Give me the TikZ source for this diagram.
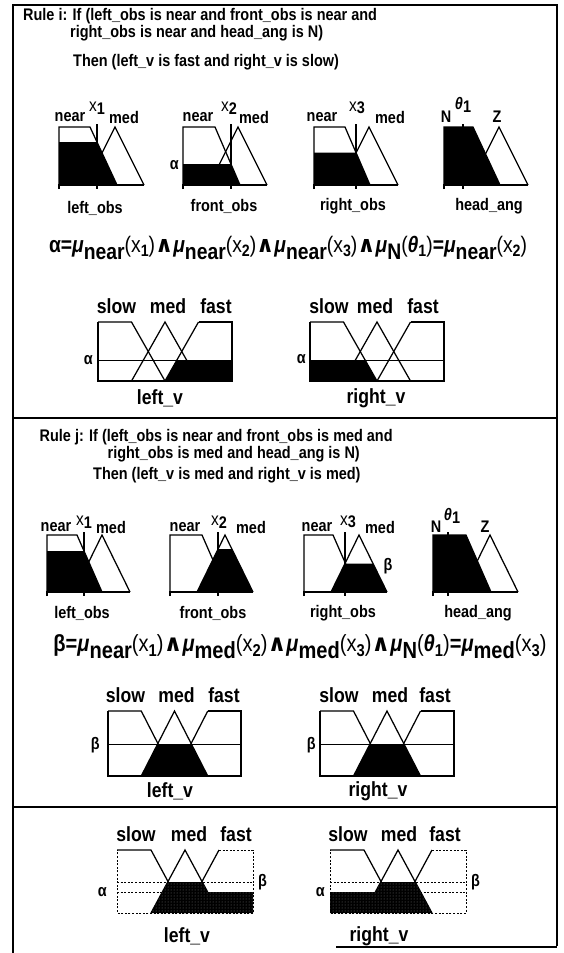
\documentclass[tikz,border=0pt]{standalone}
\usepackage{graphicx}
\usepackage{fontspec}
\setmainfont{Liberation Sans}[FakeStretch=0.86]
\newfontfamily\dejavu{DejaVu Sans}
\usetikzlibrary{patterns}

\newcommand\InMF[9]{%
 \draw[mf] (#1,#3)--(#1,#2)--(#4,#2)--(#5,#3);
 \draw[mf] (#6,#3)--(#7,#2)--(#8,#3);
 \draw[mf] (#9,{#2-3})--(#9,#3);}
\newcommand\InBase[4]{%
 \draw[mf] (#1,{#2+4})--(#1,#2)--(#3,#2);
 \draw[mf] (#4,#2)--(#4,{#2+4});}
\newcommand\OutMF[4]{%
 \draw[mf] (#1,#3)--({#1+0.25*#2},#3)--({#1+0.5*#2},#4);
 \draw[mf] ({#1+0.25*#2},#4)--({#1+0.5*#2},#3)--({#1+0.75*#2},#4);
 \draw[mf] ({#1+0.5*#2},#4)--({#1+0.75*#2},#3);}
\newcommand\OutFr[5]{%
 \draw[#1] ({#2+0.75*#3},#4)--({#2+#3},#4)--({#2+#3},#5)--(#2,#5)--(#2,#4);}
\newcommand\mus[1]{\textit{μ}\raisebox{-0.55ex}{#1}}
\newcommand\wdg{{\dejavu\bfseries ∧}}
\newcommand\fa[1]{{\mdseries(}#1{\mdseries)}}
\newcommand\xx[1]{{\mdseries x}\raisebox{-0.35ex}{\fontsize{11}{11}\selectfont #1}}
\newcommand\thx{\textit{θ}\raisebox{-0.35ex}{\fontsize{11}{11}\selectfont 1}}
\newcommand\xl[1]{{\mdseries\fontsize{18}{18}\selectfont x}\raisebox{-0.3ex}{#1}}

\begin{document}
\begin{tikzpicture}[x=1pt,y=-1pt,
 mf/.style={line width=1.25pt, line join=miter},
 blk/.style={fill=black, draw=none},
 lbl/.style={font=\bfseries\fontsize{16.8}{17}\selectfont, inner sep=0pt},
 olbl/.style={font=\bfseries\fontsize{20.5}{21}\selectfont, inner sep=0pt},
 rtxt/.style={font=\bfseries\fontsize{16.8}{18}\selectfont, inner sep=0pt, anchor=west},
 fml/.style={font=\bfseries\fontsize{15}{15}\selectfont, inner sep=0pt},
 panel/.style={line width=1.5pt},
 dsh/.style={line width=0.9pt, dash pattern=on 2pt off 1.6pt},
 stip/.style={fill=black, draw=none, postaction={pattern=dots, pattern color=black!55}}]
\useasboundingbox (0,0) rectangle (564,953);

% panels
\draw[panel] (13,5) rectangle (557,418);
\draw[panel] (13,418) rectangle (557,807);
\draw[panel] (557,807) -- (13,807) -- (13,953);
\draw[panel] (557,807) -- (557,946);
\draw[panel] (336,947) -- (557,947);

% ---------------- Panel 1 ----------------
\node[rtxt] (r1a) at (23,16) {Rule i: If (left\_obs is near and front\_obs is near and};
\node[rtxt] (r1b) at (70,33) {right\_obs is near and head\_ang is N)};
\node[rtxt] (r1c) at (73,62) {Then (left\_v is fast and right\_v is slow)};

\InMF{59}{127}{185}{90}{117}{86}{115}{144}{97}
\fill[blk] (59,185)--(59,142)--(97,142)--(117,185)--cycle;
\InBase{59}{185}{144}{97}
\InMF{183}{127}{185}{215}{240}{209}{238}{267}{231}
\fill[blk] (183,185)--(183,164)--(231,164)--(240,185)--cycle;
\InBase{183}{185}{267}{231}
\InMF{314}{127}{185}{345}{370}{340}{369}{398}{356}
\fill[blk] (314,185)--(314,152.5)--(356,152.5)--(370,185)--cycle;
\InBase{314}{185}{398}{356}
\InMF{444}{127}{185}{473}{500}{470}{499}{528}{463}
\fill[blk] (444,185)--(444,127)--(473,127)--(500,185)--cycle;
\InBase{444}{185}{528}{463}

\node[lbl] (p1n1) at (70,117) {near};
\node[lbl] (p1x1) at (97,108) {\xl{1}};
\node[lbl] (p1m1) at (124,117) {med};
\node[lbl] (p1n2) at (198,117) {near};
\node[lbl] (p1x2) at (229,108) {\xl{2}};
\node[lbl] (p1m2) at (254,117) {med};
\node[lbl, anchor=east] (p1al) at (179,165) {α};
\node[lbl] (p1n3) at (322,117) {near};
\node[lbl] (p1x3) at (357,108) {\xl{3}};
\node[lbl] (p1m3) at (390,117) {med};
\node[lbl] (p1N) at (446,117) {N};
\node[lbl] (p1th) at (463,105) {\textit{θ}\raisebox{-0.3ex}{1}};
\node[lbl] (p1Z) at (497,117) {Z};
\node[lbl] (p1lo) at (95,208) {left\_obs};
\node[lbl] (p1fo) at (224,206) {front\_obs};
\node[lbl] (p1ro) at (353,206) {right\_obs};
\node[lbl] (p1ha) at (489,206) {head\_ang};

\node[fml] (p1f) at (288,248) {\resizebox{478pt}{!}{α=\mus{near}\fa{\xx1}\wdg\mus{near}\fa{\xx2}\wdg\mus{near}\fa{\xx3}\wdg\mus{N}\fa{\thx}=\mus{near}\fa{\xx2}}};

% outputs panel 1
\draw[mf] (98,360.5)--(232,360.5);
\OutMF{98}{134}{322}{381}
\fill[blk] (165,381)--(176.6,360.5)--(232,360.5)--(232,381)--cycle;
\OutFr{mf}{98}{134}{322}{381}
\draw[mf] (310,360.5)--(444,360.5);
\OutMF{310}{134}{322}{381}
\fill[blk] (310,381)--(310,360.5)--(365.4,360.5)--(377,381)--cycle;
\OutFr{mf}{310}{134}{322}{381}

\node[olbl] (p1s1) at (116.5,306) {slow};
\node[olbl] (p1d1) at (168,306) {med};
\node[olbl] (p1f1) at (216,306) {fast};
\node[olbl] (p1s2) at (329,306) {slow};
\node[olbl] (p1d2) at (375,306) {med};
\node[olbl] (p1f2) at (423,306) {fast};
\node[lbl, anchor=east] (p1a1) at (93,360.5) {α};
\node[lbl, anchor=east] (p1a2) at (306,359) {α};
\node[olbl] (p1lv) at (160,398) {left\_v};
\node[olbl] (p1rv) at (376,398) {right\_v};

% ---------------- Panel 2 ----------------
\node[rtxt] (r2a) at (39.5,437.5) {Rule j: If (left\_obs is near and front\_obs is med and};
\node[rtxt] (r2b) at (107.5,454) {right\_obs is med and head\_ang is N)};
\node[rtxt] (r2c) at (93,475) {Then (left\_v is med and right\_v is med)};

\InMF{47}{535}{592}{77}{102}{74}{102}{130}{84}
\fill[blk] (47,592)--(47,551)--(84,551)--(102,592)--cycle;
\InBase{47}{592}{130}{84}
\InMF{170}{535}{592}{202}{227}{197}{225}{253}{218}
\fill[blk] (197,592)--(218,549)--(232,549)--(253,592)--cycle;
\InBase{170}{592}{253}{218}
\InMF{304}{535}{592}{333}{358}{331}{359}{387}{345}
\fill[blk] (331,592)--(345,563.5)--(373,563.5)--(387,592)--cycle;
\InBase{304}{592}{387}{345}
\InMF{433}{535}{592}{466}{491}{462}{490}{518}{448}
\fill[blk] (433,592)--(433,535)--(466,535)--(491,592)--cycle;
\InBase{433}{592}{518}{448}

\node[lbl] (p2n1) at (56,527) {near};
\node[lbl] (p2x1) at (84,522) {\xl{1}};
\node[lbl] (p2m1) at (111,527) {med};
\node[lbl] (p2n2) at (185,527) {near};
\node[lbl] (p2x2) at (219,522) {\xl{2}};
\node[lbl] (p2m2) at (251,527) {med};
\node[lbl] (p2n3) at (317,527) {near};
\node[lbl] (p2x3) at (348,522) {\xl{3}};
\node[lbl] (p2m3) at (380,527) {med};
\node[lbl] (p2be) at (388,566) {β};
\node[lbl] (p2N) at (436,527) {N};
\node[lbl] (p2th) at (452,516) {\textit{θ}\raisebox{-0.3ex}{1}};
\node[lbl] (p2Z) at (485,527) {Z};
\node[lbl] (p2lo) at (82,613) {left\_obs};
\node[lbl] (p2fo) at (213,613) {front\_obs};
\node[lbl] (p2ro) at (343,613) {right\_obs};
\node[lbl] (p2ha) at (478,613) {head\_ang};

\node[fml] (p2f) at (300,647) {\resizebox{493pt}{!}{β=\mus{near}\fa{\xx1}\wdg\mus{med}\fa{\xx2}\wdg\mus{med}\fa{\xx3}\wdg\mus{N}\fa{\thx}=\mus{med}\fa{\xx3}}};

% outputs panel 2
\draw[mf] (108,744.8)--(241,744.8);
\OutMF{108}{133}{711}{776}
\fill[blk] (141.25,776)--(157.2,744.8)--(191.8,744.8)--(207.75,776)--cycle;
\OutFr{mf}{108}{133}{711}{776}
\draw[mf] (320,744.8)--(454,744.8);
\OutMF{320}{134}{711}{776}
\fill[blk] (353.5,776)--(369.6,744.8)--(404.4,744.8)--(420.5,776)--cycle;
\OutFr{mf}{320}{134}{711}{776}

\node[olbl] (p2s1) at (125.5,695) {slow};
\node[olbl] (p2d1) at (176.5,695) {med};
\node[olbl] (p2f1) at (224,695) {fast};
\node[olbl] (p2s2) at (339,695) {slow};
\node[olbl] (p2d2) at (390,695) {med};
\node[olbl] (p2f2) at (435,695) {fast};
\node[lbl, anchor=east] (p2b1) at (100,745) {β};
\node[lbl, anchor=east] (p2b2) at (316,745) {β};
\node[olbl] (p2lv) at (170,791) {left\_v};
\node[olbl] (p2rv) at (378,791) {right\_v};

% ---------------- Panel 3 ----------------
\draw[dsh] (117,892.2)--(253,892.2);
\draw[dsh] (117,882.1)--(253,882.1);
\OutMF{117}{136}{850}{913}
\path[stip] (151,913)--(167.66,882.1)--(202.34,882.1)--(207.78,892.2)--(253,892.2)--(253,913)--cycle;
\OutFr{dsh}{117}{136}{850}{913}

\draw[dsh] (330,892.2)--(466,892.2);
\draw[dsh] (330,882.1)--(466,882.1);
\OutMF{330}{136}{850}{913}
\path[stip] (330,913)--(330,892.2)--(375.22,892.2)--(380.66,882.1)--(415.34,882.1)--(432,913)--cycle;
\OutFr{dsh}{330}{136}{850}{913}

\node[olbl] (p3s1) at (136,834) {slow};
\node[olbl] (p3d1) at (189,834) {med};
\node[olbl] (p3f1) at (236,834) {fast};
\node[olbl] (p3s2) at (348,834) {slow};
\node[olbl] (p3d2) at (399,834) {med};
\node[olbl] (p3f2) at (445,834) {fast};
\node[lbl, anchor=east] (p3a1) at (107,892) {α};
\node[lbl, anchor=west] (p3b1) at (258,882) {β};
\node[lbl, anchor=east] (p3a2) at (325,892) {α};
\node[lbl, anchor=west] (p3b2) at (471,882) {β};
\node[olbl] (p3lv) at (187,936) {left\_v};
\node[olbl] (p3rv) at (379,936) {right\_v};
\end{tikzpicture}
\end{document}
